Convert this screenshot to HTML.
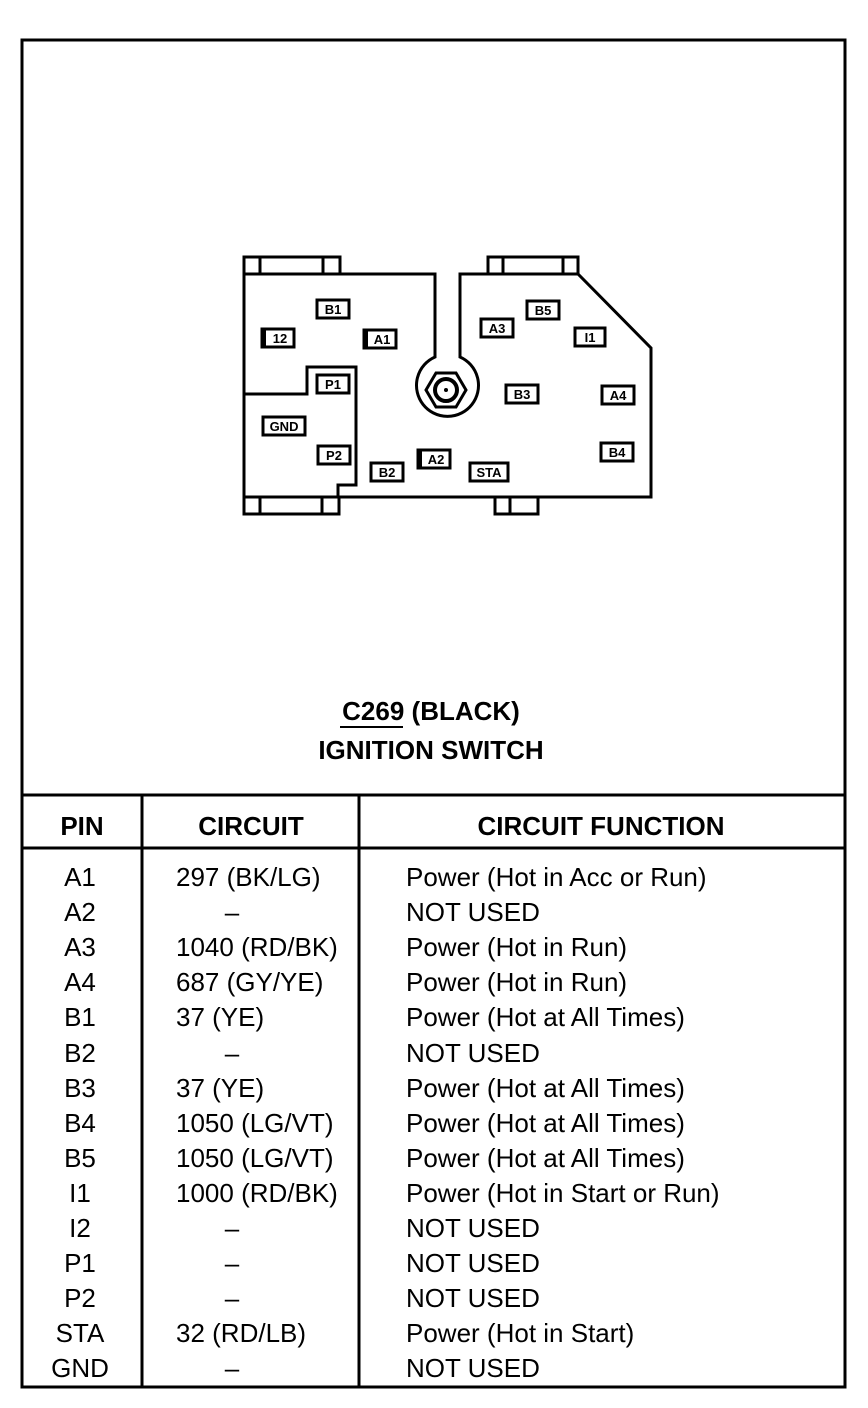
<!DOCTYPE html>
<html><head><meta charset="utf-8"><style>
html,body{margin:0;padding:0;background:#fff}
svg{display:block}
text{font-family:"Liberation Sans",Arial,sans-serif;fill:#000}
.h{font-weight:bold;font-size:26px}
.r{font-size:26px}
.p{font-weight:bold;font-size:13px}
</style></head><body>
<svg width="868" height="1408" viewBox="0 0 868 1408" xmlns="http://www.w3.org/2000/svg">
<rect x="0" y="0" width="868" height="1408" fill="#fff"/>
<rect x="22" y="40" width="823" height="1347" fill="none" stroke="#000" stroke-width="3"/>
<line x1="22" y1="795" x2="845" y2="795" stroke="#000" stroke-width="3"/>
<line x1="22" y1="848" x2="845" y2="848" stroke="#000" stroke-width="3"/>
<line x1="142" y1="795" x2="142" y2="1387" stroke="#000" stroke-width="3"/>
<line x1="359" y1="795" x2="359" y2="1387" stroke="#000" stroke-width="3"/>

<g fill="none" stroke="#000" stroke-width="3">
<rect x="244" y="257" width="96" height="17"/>
<line x1="260" y1="257" x2="260" y2="274"/><line x1="323" y1="257" x2="323" y2="274"/>
<rect x="488" y="257" width="90" height="17"/>
<line x1="503" y1="257" x2="503" y2="274"/><line x1="563" y1="257" x2="563" y2="274"/>
<rect x="244" y="497" width="95" height="17"/>
<line x1="260" y1="497" x2="260" y2="514"/><line x1="322" y1="497" x2="322" y2="514"/>
<rect x="495" y="497" width="43" height="17"/>
<line x1="510" y1="497" x2="510" y2="514"/>
<path d="M244 274 L435 274 L435 357 A31 31 0 1 0 460 357 L460 274 L578 274 L651 348 L651 497 L244 497 Z" fill="#fff"/>
<path d="M244 394 L307 394 L307 367 L356 367 L356 485 L338 485 L338 497"/>
<polygon points="466,390 456,407 436,407 426,390 436,373 456,373" stroke-width="3"/>
<circle cx="446" cy="390" r="11" stroke-width="4"/>
</g>
<circle cx="446" cy="390" r="2" fill="#000"/>

<g>
<g transform="translate(333,309)"><rect x="-16" y="-9" width="32" height="18" fill="#fff" stroke="#000" stroke-width="3"/><text class="p" text-anchor="middle" y="5">B1</text></g>
<g transform="translate(278,338)"><rect x="-16" y="-9" width="32" height="18" fill="#fff" stroke="#000" stroke-width="3"/><rect x="-16" y="-9" width="4" height="18" fill="#000"/><text class="p" text-anchor="middle" x="2" y="5">12</text></g>
<g transform="translate(380,339)"><rect x="-16" y="-9" width="32" height="18" fill="#fff" stroke="#000" stroke-width="3"/><rect x="-16" y="-9" width="4" height="18" fill="#000"/><text class="p" text-anchor="middle" x="2" y="5">A1</text></g>
<g transform="translate(333,384)"><rect x="-16" y="-9" width="32" height="18" fill="#fff" stroke="#000" stroke-width="3"/><text class="p" text-anchor="middle" y="5">P1</text></g>
<g transform="translate(284,426)"><rect x="-21" y="-9" width="42" height="18" fill="#fff" stroke="#000" stroke-width="3"/><text class="p" text-anchor="middle" y="5">GND</text></g>
<g transform="translate(334,455)"><rect x="-16" y="-9" width="32" height="18" fill="#fff" stroke="#000" stroke-width="3"/><text class="p" text-anchor="middle" y="5">P2</text></g>
<g transform="translate(387,472)"><rect x="-16" y="-9" width="32" height="18" fill="#fff" stroke="#000" stroke-width="3"/><text class="p" text-anchor="middle" y="5">B2</text></g>
<g transform="translate(434,459)"><rect x="-16" y="-9" width="32" height="18" fill="#fff" stroke="#000" stroke-width="3"/><rect x="-16" y="-9" width="4" height="18" fill="#000"/><text class="p" text-anchor="middle" x="2" y="5">A2</text></g>
<g transform="translate(489,472)"><rect x="-19" y="-9" width="38" height="18" fill="#fff" stroke="#000" stroke-width="3"/><text class="p" text-anchor="middle" y="5">STA</text></g>
<g transform="translate(497,328)"><rect x="-16" y="-9" width="32" height="18" fill="#fff" stroke="#000" stroke-width="3"/><text class="p" text-anchor="middle" y="5">A3</text></g>
<g transform="translate(543,310)"><rect x="-16" y="-9" width="32" height="18" fill="#fff" stroke="#000" stroke-width="3"/><text class="p" text-anchor="middle" y="5">B5</text></g>
<g transform="translate(590,337)"><rect x="-15" y="-9" width="30" height="18" fill="#fff" stroke="#000" stroke-width="3"/><text class="p" text-anchor="middle" y="5">I1</text></g>
<g transform="translate(522,394)"><rect x="-16" y="-9" width="32" height="18" fill="#fff" stroke="#000" stroke-width="3"/><text class="p" text-anchor="middle" y="5">B3</text></g>
<g transform="translate(618,395)"><rect x="-16" y="-9" width="32" height="18" fill="#fff" stroke="#000" stroke-width="3"/><text class="p" text-anchor="middle" y="5">A4</text></g>
<g transform="translate(617,452)"><rect x="-16" y="-9" width="32" height="18" fill="#fff" stroke="#000" stroke-width="3"/><text class="p" text-anchor="middle" y="5">B4</text></g>
</g>

<text class="h" x="431" y="720" text-anchor="middle">C269 (BLACK)</text>
<line x1="340" y1="727" x2="403" y2="727" stroke="#000" stroke-width="2"/>
<text class="h" x="431" y="759" text-anchor="middle">IGNITION SWITCH</text>
<text class="h" x="82" y="835" text-anchor="middle">PIN</text>
<text class="h" x="251" y="835" text-anchor="middle">CIRCUIT</text>
<text class="h" x="601" y="835" text-anchor="middle">CIRCUIT FUNCTION</text>

<g>
<text x="80" y="886" text-anchor="middle" class="r">A1</text><text x="176" y="886" class="r">297 (BK/LG)</text><text x="406" y="886" class="r">Power (Hot in Acc or Run)</text>
<text x="80" y="921" text-anchor="middle" class="r">A2</text><text x="232" y="921" text-anchor="middle" class="r">–</text><text x="406" y="921" class="r">NOT USED</text>
<text x="80" y="956" text-anchor="middle" class="r">A3</text><text x="176" y="956" class="r">1040 (RD/BK)</text><text x="406" y="956" class="r">Power (Hot in Run)</text>
<text x="80" y="991" text-anchor="middle" class="r">A4</text><text x="176" y="991" class="r">687 (GY/YE)</text><text x="406" y="991" class="r">Power (Hot in Run)</text>
<text x="80" y="1026" text-anchor="middle" class="r">B1</text><text x="176" y="1026" class="r">37 (YE)</text><text x="406" y="1026" class="r">Power (Hot at All Times)</text>
<text x="80" y="1062" text-anchor="middle" class="r">B2</text><text x="232" y="1062" text-anchor="middle" class="r">–</text><text x="406" y="1062" class="r">NOT USED</text>
<text x="80" y="1097" text-anchor="middle" class="r">B3</text><text x="176" y="1097" class="r">37 (YE)</text><text x="406" y="1097" class="r">Power (Hot at All Times)</text>
<text x="80" y="1132" text-anchor="middle" class="r">B4</text><text x="176" y="1132" class="r">1050 (LG/VT)</text><text x="406" y="1132" class="r">Power (Hot at All Times)</text>
<text x="80" y="1167" text-anchor="middle" class="r">B5</text><text x="176" y="1167" class="r">1050 (LG/VT)</text><text x="406" y="1167" class="r">Power (Hot at All Times)</text>
<text x="80" y="1202" text-anchor="middle" class="r">I1</text><text x="176" y="1202" class="r">1000 (RD/BK)</text><text x="406" y="1202" class="r">Power (Hot in Start or Run)</text>
<text x="80" y="1237" text-anchor="middle" class="r">I2</text><text x="232" y="1237" text-anchor="middle" class="r">–</text><text x="406" y="1237" class="r">NOT USED</text>
<text x="80" y="1272" text-anchor="middle" class="r">P1</text><text x="232" y="1272" text-anchor="middle" class="r">–</text><text x="406" y="1272" class="r">NOT USED</text>
<text x="80" y="1307" text-anchor="middle" class="r">P2</text><text x="232" y="1307" text-anchor="middle" class="r">–</text><text x="406" y="1307" class="r">NOT USED</text>
<text x="80" y="1342" text-anchor="middle" class="r">STA</text><text x="176" y="1342" class="r">32 (RD/LB)</text><text x="406" y="1342" class="r">Power (Hot in Start)</text>
<text x="80" y="1377" text-anchor="middle" class="r">GND</text><text x="232" y="1377" text-anchor="middle" class="r">–</text><text x="406" y="1377" class="r">NOT USED</text>
</g>
</svg>
</body></html>
